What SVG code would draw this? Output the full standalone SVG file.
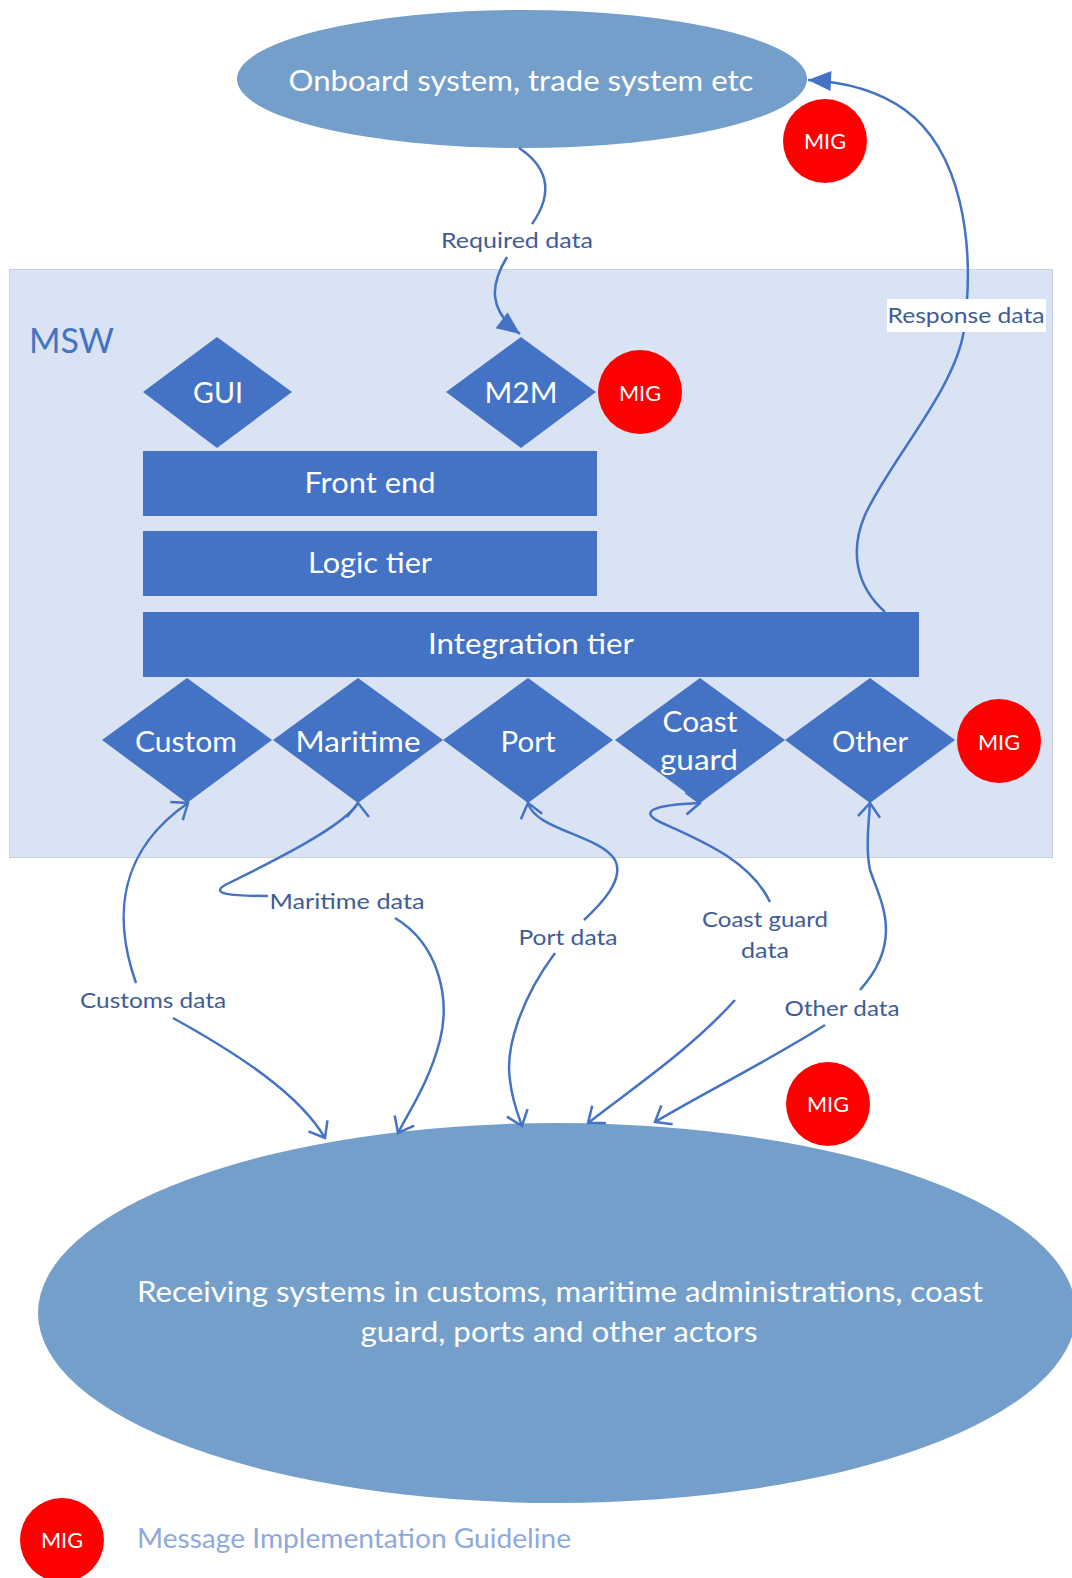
<svg xmlns="http://www.w3.org/2000/svg" width="1072" height="1578" viewBox="0 0 1072 1578">
<style>
text{font-family:Lato,"Open Sans","Liberation Sans",sans-serif;}
.ell{fill:#749FCB;}
.blk{fill:#4472C4;}
.wt{fill:#FFFFFF;text-anchor:middle;}
.mig{fill:#FF0000;}
.migt{fill:#FFFFFF;font-size:22px;text-anchor:middle;}
.lbl{fill:#405C96;font-size:22px;text-anchor:middle;}
.con{fill:none;stroke:#4472C4;stroke-width:2.5;}
</style>
<defs>
<marker id="open" markerUnits="userSpaceOnUse" markerWidth="24" markerHeight="24" refX="18" refY="12" orient="auto-start-reverse" overflow="visible">
<path d="M4,1 L18,12 L4,23" fill="none" stroke="#4472C4" stroke-width="2.5"/>
</marker>
<marker id="openUp" markerUnits="userSpaceOnUse" markerWidth="24" markerHeight="24" refX="18" refY="12" orient="270" overflow="visible">
<path d="M4,1 L18,12 L4,23" fill="none" stroke="#4472C4" stroke-width="2.5"/>
</marker>
<marker id="fill" markerUnits="userSpaceOnUse" markerWidth="24" markerHeight="20" refX="23" refY="10" orient="auto" overflow="visible">
<path d="M0,0 L23,10 L0,20 z" fill="#4472C4"/>
</marker>
</defs>
<rect width="1072" height="1578" fill="#FFFFFF"/>

<g id="msw">
<rect x="9.5" y="269.5" width="1043" height="588" fill="#DAE3F3" stroke="#C9D0DC" stroke-width="1"/>
<text x="29" y="353" font-size="35" fill="#4472C4" textLength="85" lengthAdjust="spacingAndGlyphs">MSW</text>
</g>

<g id="onboard">
<ellipse class="ell" cx="522" cy="79" rx="285" ry="69"/>
<text class="wt" x="521" y="91" font-size="29" textLength="465" lengthAdjust="spacingAndGlyphs">Onboard system, trade system etc</text>
</g>

<g id="mig-top">
<circle class="mig" cx="825" cy="141" r="42"/>
<text class="migt" x="825" y="149" textLength="42" lengthAdjust="spacingAndGlyphs">MIG</text>
</g>

<g id="gui">
<polygon class="blk" points="217,337 292,392 217,448 143,392"/>
<text class="wt" x="218" y="403" font-size="28" textLength="50" lengthAdjust="spacingAndGlyphs">GUI</text>
</g>

<g id="m2m">
<polygon class="blk" points="521,337 596,392 521,448 446,392"/>
<text class="wt" x="521" y="403" font-size="28" textLength="73" lengthAdjust="spacingAndGlyphs">M2M</text>
</g>

<g id="mig-m2m">
<circle class="mig" cx="640" cy="392" r="42"/>
<text class="migt" x="640" y="401" textLength="42" lengthAdjust="spacingAndGlyphs">MIG</text>
</g>

<g id="front-end">
<rect class="blk" x="143" y="451" width="454" height="65"/>
<text class="wt" x="370" y="493" font-size="28" textLength="131" lengthAdjust="spacingAndGlyphs">Front end</text>
</g>

<g id="logic-tier">
<rect class="blk" x="143" y="531" width="454" height="65"/>
<text class="wt" x="370" y="573" font-size="28" textLength="124" lengthAdjust="spacingAndGlyphs">Logic tier</text>
</g>

<g id="integration-tier">
<rect class="blk" x="143" y="612" width="776" height="65"/>
<text class="wt" x="531" y="654" font-size="28" textLength="206" lengthAdjust="spacingAndGlyphs">Integration tier</text>
</g>

<g id="custom">
<polygon class="blk" points="187,678 272,740 187,803 102,740"/>
<text class="wt" x="186" y="752" font-size="28" textLength="102" lengthAdjust="spacingAndGlyphs">Custom</text>
</g>
<g id="maritime">
<polygon class="blk" points="358,678 443,740 358,803 273,740"/>
<text class="wt" x="358" y="752" font-size="28" textLength="125" lengthAdjust="spacingAndGlyphs">Maritime</text>
</g>
<g id="port">
<polygon class="blk" points="528,678 613,740 528,803 443,740"/>
<text class="wt" x="528" y="752" font-size="28" textLength="55" lengthAdjust="spacingAndGlyphs">Port</text>
</g>
<g id="coast-guard">
<polygon class="blk" points="700,678 785,740 700,803 615,740"/>
<text class="wt" x="700" y="732" font-size="28" textLength="75" lengthAdjust="spacingAndGlyphs">Coast</text>
<text class="wt" x="699" y="770" font-size="28" textLength="78" lengthAdjust="spacingAndGlyphs">guard</text>
</g>
<g id="other">
<polygon class="blk" points="870,678 955,740 870,803 785,740"/>
<text class="wt" x="870" y="752" font-size="28" textLength="76" lengthAdjust="spacingAndGlyphs">Other</text>
</g>

<g id="mig-other">
<circle class="mig" cx="999" cy="741" r="42"/>
<text class="migt" x="999" y="750" textLength="42" lengthAdjust="spacingAndGlyphs">MIG</text>
</g>

<g id="receiving">
<ellipse class="ell" cx="557" cy="1313" rx="519" ry="190"/>
<text class="wt" x="560" y="1302" font-size="28" textLength="846" lengthAdjust="spacingAndGlyphs">Receiving systems in customs, maritime administrations, coast</text>
<text class="wt" x="559" y="1342" font-size="28" textLength="397" lengthAdjust="spacingAndGlyphs">guard, ports and other actors</text>
</g>

<g id="mig-bottom">
<circle class="mig" cx="828" cy="1104" r="42"/>
<text class="migt" x="828" y="1112" textLength="42" lengthAdjust="spacingAndGlyphs">MIG</text>
</g>

<g id="connectors">
<path class="con" d="M519,148 C545,165 556,190 532,224"/>
<path class="con" d="M507,257 C490,285 488,310 520,334" marker-end="url(#fill)"/>
<path class="con" d="M885,612 C855,585 850,550 865,515 C890,460 955,390 964,330 C976,240 960,150 905,110 C880,92 850,82 808,80" marker-end="url(#fill)"/>
<path class="con" d="M136,983 C112,915 120,850 188,803" marker-end="url(#open)"/>
<path class="con" d="M173,1018 C240,1055 300,1095 325,1138" marker-end="url(#open)"/>
<path class="con" d="M358,803 C345,825 280,858 225,885 C210,894 230,896 268,896" marker-start="url(#openUp)"/>
<path class="con" d="M395,918 C440,945 450,1000 440,1040 C430,1080 410,1110 398,1133" marker-end="url(#open)"/>
<path class="con" d="M528,803 C535,830 600,835 615,860 C625,880 600,905 584,920" marker-start="url(#open)"/>
<path class="con" d="M555,953 C520,1000 505,1050 510,1080 C512,1100 518,1115 522,1126" marker-end="url(#open)"/>
<path class="con" d="M770,902 C750,860 700,840 660,822 C640,812 650,805 700,803" marker-end="url(#open)"/>
<path class="con" d="M735,1000 C690,1050 630,1090 588,1123" marker-end="url(#open)"/>
<path class="con" d="M870,803 C868,830 866,850 870,870 C880,900 905,940 860,990" marker-start="url(#open)"/>
<path class="con" d="M825,1025 C770,1060 700,1095 655,1122" marker-end="url(#open)"/>
<rect x="887" y="299" width="159" height="33" fill="#FFFFFF"/>
<text class="lbl" x="517" y="248" textLength="152" lengthAdjust="spacingAndGlyphs">Required data</text>
<text class="lbl" x="966" y="323" textLength="157" lengthAdjust="spacingAndGlyphs">Response data</text>
<text class="lbl" x="347" y="909" textLength="155" lengthAdjust="spacingAndGlyphs">Maritime data</text>
<text class="lbl" x="153" y="1008" textLength="146" lengthAdjust="spacingAndGlyphs">Customs data</text>
<text class="lbl" x="568" y="945" textLength="99" lengthAdjust="spacingAndGlyphs">Port data</text>
<text class="lbl" x="765" y="927" textLength="126" lengthAdjust="spacingAndGlyphs">Coast guard</text>
<text class="lbl" x="765" y="958" textLength="48" lengthAdjust="spacingAndGlyphs">data</text>
<text class="lbl" x="842" y="1016" textLength="115" lengthAdjust="spacingAndGlyphs">Other data</text>
</g>

<g id="legend">
<circle class="mig" cx="62" cy="1540" r="42"/>
<text class="migt" x="62" y="1548" textLength="42" lengthAdjust="spacingAndGlyphs">MIG</text>
<text x="137" y="1548" font-size="27" fill="#8EA9DB" textLength="434" lengthAdjust="spacingAndGlyphs">Message Implementation Guideline</text>
</g>
</svg>
